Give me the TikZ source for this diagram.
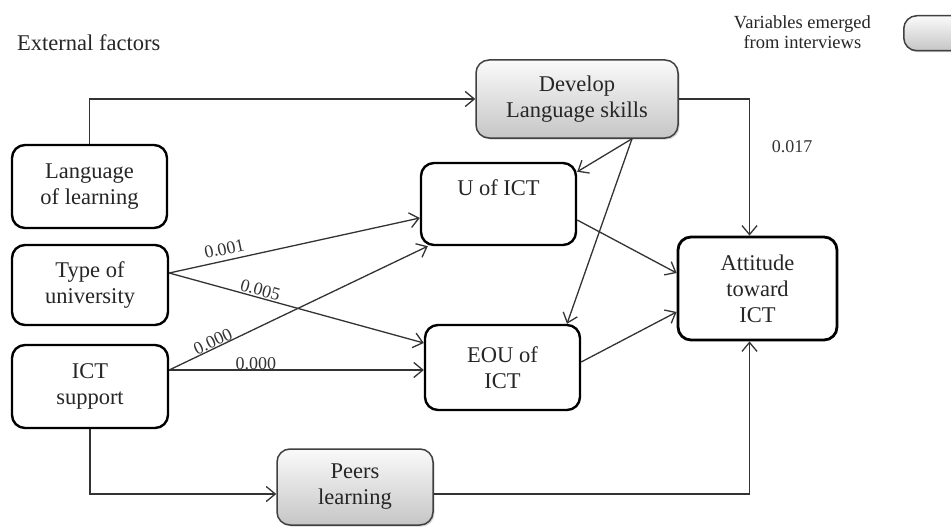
\documentclass[tikz,border=0pt]{standalone}
\usepackage{fontspec}
\setmainfont{Liberation Serif}
\usetikzlibrary{arrows.meta,shadows}
\begin{document}
\begin{tikzpicture}[x=1pt,y=-1pt,
  box/.style={draw=black, line width=2.4pt, rounded corners=13pt, align=center,
    font=\fontsize{22.5}{26}\selectfont, inner sep=0pt, text=black!85},
  graybox/.style={draw=black!75, line width=1.5pt, rounded corners=13pt, align=center,
    font=\fontsize{22.5}{26}\selectfont, inner sep=0pt, text=black!85,
    top color=gray!4, bottom color=gray!45,
    drop shadow={opacity=0.35, shadow xshift=1.5pt, shadow yshift=-1.5pt}},
  conn/.style={line width=1.3pt, draw=black!80,
    -{Straight Barb[length=9pt,width=15pt,line width=1.3pt]}},
  lbl/.style={font=\fontsize{18}{20}\selectfont, text=black!80, inner sep=0pt},
]
\clip (0,0) rectangle (951,527);
\fill[white] (0,0) rectangle (951,527);

% nodes
\node[box, minimum width=155pt, minimum height=83pt] (lang) at (89.5,186.5) {Language\\of learning};
\node[box, minimum width=156pt, minimum height=80pt] (type) at (90,285) {Type of\\university};
\node[box, minimum width=156pt, minimum height=83pt] (ict) at (90,386.5) {ICT\\support};
\node[graybox, minimum width=202pt, minimum height=78pt] (dev) at (577,99) {Develop\\Language skills};
\node[box, minimum width=155pt, minimum height=82pt] (u) at (498.5,204) {U of ICT\\\strut};
\node[box, minimum width=155pt, minimum height=85pt] (eou) at (502.5,367.5) {EOU of\\ICT};
\node[box, line width=2.8pt, minimum width=159pt, minimum height=103pt] (att) at (757.5,288.5) {Attitude\\toward\\ICT};
\node[graybox, minimum width=156pt, minimum height=76pt] (peers) at (355,487) {Peers\\learning};

% legend and titles
\node[graybox, minimum width=80pt, minimum height=35pt, anchor=north west] (legbox) at (903,15) {};
\node[font=\fontsize{18.5}{20}\selectfont, align=center, anchor=east, text=black!85, inner sep=0pt] (legtxt) at (871,32) {Variables emerged\\from interviews};
\node[anchor=west, font=\fontsize{22.5}{26}\selectfont, text=black!85, inner sep=0pt] (ext) at (17,43) {External factors};

% connectors
\draw[conn] (lang.north) |- (dev.west);
\draw[conn] (dev.east) -| ([xshift=-8pt]att.north);
\draw[conn] ([xshift=55pt]dev.south) -- ([yshift=-10pt]u.north east);
\draw[conn] ([xshift=55pt]dev.south) -- ([xshift=64.5pt]eou.north);
\draw[conn] ([yshift=12pt]type.east) -- ([yshift=-14pt]u.west)
  node[lbl, pos=0.23, above=5pt, sloped] (l1) {0.001};
\draw[conn] ([yshift=12pt]type.east) -- ([yshift=24.5pt]eou.west)
  node[lbl, pos=0.35, above=1pt, sloped] (l2) {0.005};
\draw[conn] ([yshift=16.5pt]ict.east) -- ([xshift=8pt]u.south west)
  node[lbl, pos=0.18, above=0pt, sloped] (l3) {0.000};
\draw[conn] ([yshift=16.5pt]ict.east) -- ([yshift=16.5pt]ict.east -| eou.west)
  node[lbl, pos=0.34, above=0pt] (l4) {0.000};
\draw[conn] ([yshift=-16pt]u.east) -- ([yshift=15.5pt]att.west);
\draw[conn] ([yshift=5.5pt]eou.east) -- ([yshift=-23.5pt]att.west);
\draw[conn] (ict.south) |- ([yshift=-7pt]peers.west);
\draw[conn] ([yshift=-7pt]peers.east) -| ([xshift=-8pt]att.south);
\node[lbl] (p017) at (792,147) {0.017};
\end{tikzpicture}
\end{document}
